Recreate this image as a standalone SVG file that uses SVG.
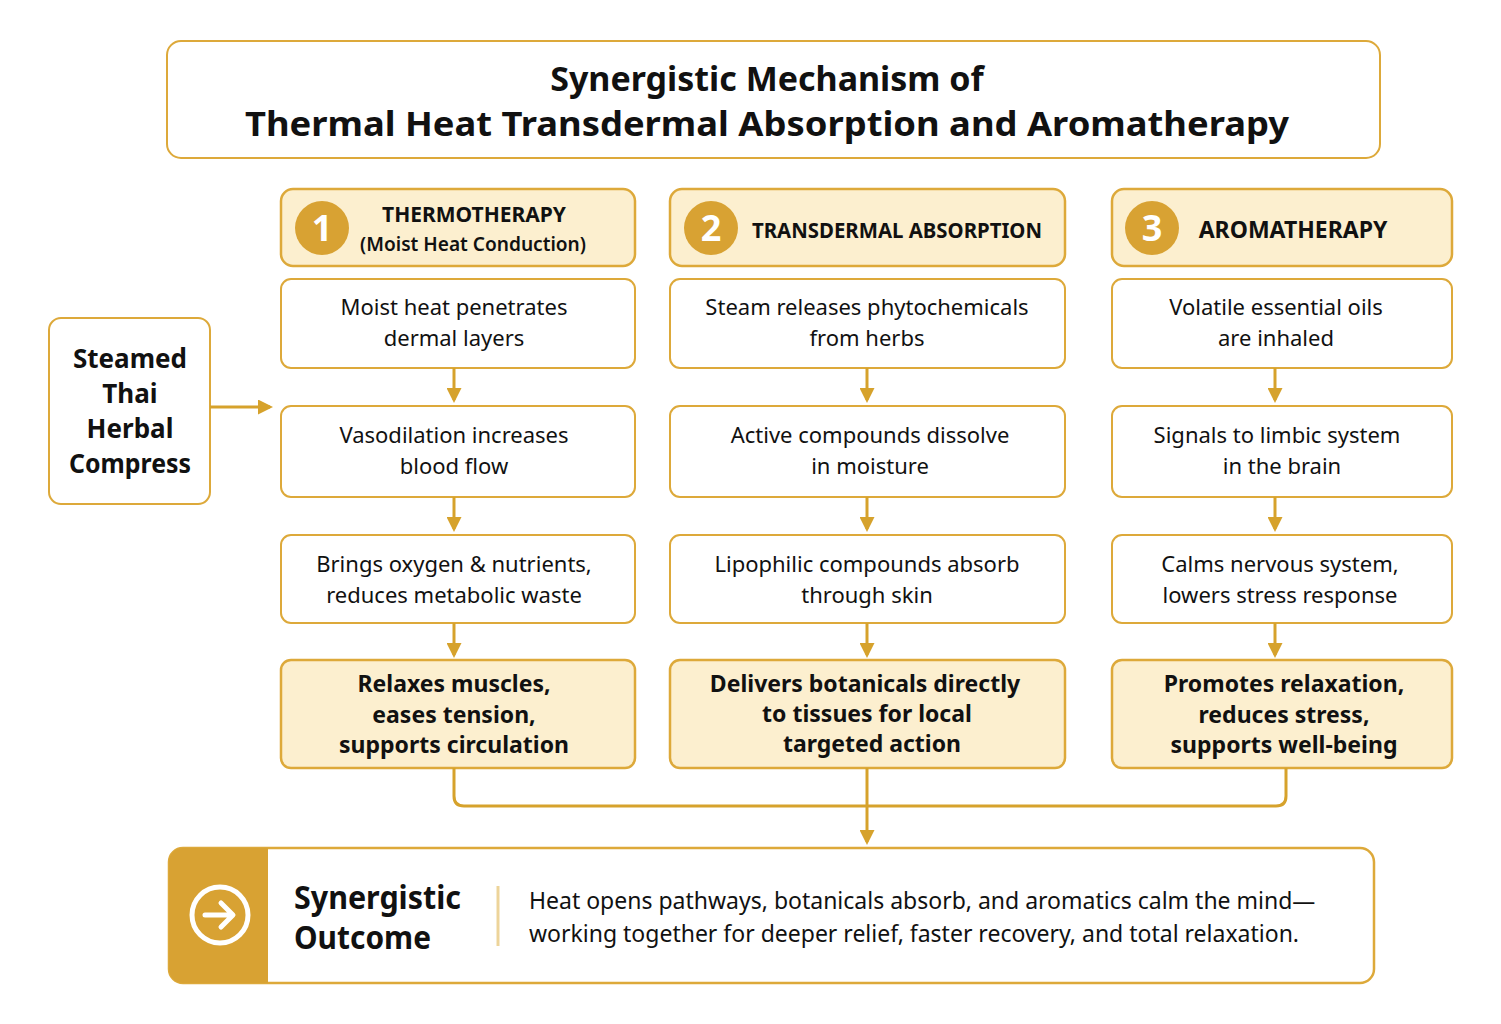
<svg xmlns="http://www.w3.org/2000/svg" width="1501" height="1024" viewBox="0 0 1501 1024">
<style>
text{font-family:"Noto Sans","Open Sans",sans-serif;fill:#111;text-anchor:middle}
.b{fill:#fff;stroke:#DDA93A;stroke-width:2}
.h{fill:#FCEFCF;stroke:#DDA93A;stroke-width:2.5}
.t{font-size:22px}
.hb{font-size:23px;font-weight:bold}
.c{stroke:#D6A22C;stroke-width:3;fill:none}
.n{fill:#D8A233}
.nt{fill:#fff;font-size:36px;font-weight:bold}
</style>
<defs><marker id="a" viewBox="0 0 10 10" refX="8" refY="5" markerWidth="5" markerHeight="5" orient="auto"><path d="M0,0L10,5L0,10z" fill="#D6A22C"/></marker></defs>
<rect width="1501" height="1024" fill="#fff"/>
<g id="title"><rect x="167" y="41" width="1213" height="117" rx="14" class="b"/>
<text x="767" y="91" style="font-size:34px;font-weight:bold">Synergistic Mechanism of</text>
<text x="767" y="136" style="font-size:34px;font-weight:bold" textLength="1044" lengthAdjust="spacingAndGlyphs">Thermal Heat Transdermal Absorption and Aromatherapy</text></g>
<g id="source"><rect x="49" y="318" width="161" height="186" rx="12" class="b"/>
<text x="130" y="368" class="hb" style="font-size:26px">Steamed</text><text x="130" y="403" class="hb" style="font-size:26px">Thai</text><text x="130" y="438" class="hb" style="font-size:26px">Herbal</text><text x="130" y="473" class="hb" style="font-size:26px" textLength="122" lengthAdjust="spacingAndGlyphs">Compress</text></g>
<g id="h1"><rect x="281" y="189" width="354" height="77" rx="12" class="h"/><circle cx="322" cy="228" r="27" class="n"/><text x="322" y="241" class="nt">1</text>
<text x="474" y="222" class="hb" style="font-size:21px">THERMOTHERAPY</text><text x="473" y="251" style="font-size:20px;font-weight:600" textLength="226" lengthAdjust="spacingAndGlyphs">(Moist Heat Conduction)</text></g>
<g id="h2"><rect x="670" y="189" width="395" height="77" rx="12" class="h"/><circle cx="711" cy="228" r="27" class="n"/><text x="711" y="241" class="nt">2</text>
<text x="897" y="238" class="hb" style="font-size:22px" textLength="290" lengthAdjust="spacingAndGlyphs">TRANSDERMAL ABSORPTION</text></g>
<g id="h3"><rect x="1112" y="189" width="340" height="77" rx="12" class="h"/><circle cx="1152" cy="228" r="27" class="n"/><text x="1152" y="241" class="nt">3</text>
<text x="1293" y="238" class="hb">AROMATHERAPY</text></g>
<g id="c1a"><rect x="281" y="279" width="354" height="89" rx="10" class="b"/><text x="454" y="315" class="t">Moist heat penetrates</text><text x="454" y="346" class="t">dermal layers</text></g>
<g id="c1b"><rect x="281" y="406" width="354" height="91" rx="10" class="b"/><text x="454" y="443" class="t">Vasodilation increases</text><text x="454" y="474" class="t">blood flow</text></g>
<g id="c1c"><rect x="281" y="535" width="354" height="88" rx="10" class="b"/><text x="454" y="572" class="t">Brings oxygen &amp; nutrients,</text><text x="454" y="603" class="t">reduces metabolic waste</text></g>
<g id="c1d"><rect x="281" y="660" width="354" height="108" rx="10" class="h" stroke-width="2"/><text x="454" y="692" class="hb">Relaxes muscles,</text><text x="454" y="723" class="hb">eases tension,</text><text x="454" y="753" class="hb">supports circulation</text></g>
<g id="c2a"><rect x="670" y="279" width="395" height="89" rx="10" class="b"/><text x="867" y="315" class="t">Steam releases phytochemicals</text><text x="867" y="346" class="t">from herbs</text></g>
<g id="c2b"><rect x="670" y="406" width="395" height="91" rx="10" class="b"/><text x="870" y="443" class="t">Active compounds dissolve</text><text x="870" y="474" class="t">in moisture</text></g>
<g id="c2c"><rect x="670" y="535" width="395" height="88" rx="10" class="b"/><text x="867" y="572" class="t">Lipophilic compounds absorb</text><text x="867" y="603" class="t">through skin</text></g>
<g id="c2d"><rect x="670" y="660" width="395" height="108" rx="10" class="h" stroke-width="2"/><text x="865" y="692" class="hb">Delivers botanicals directly</text><text x="867" y="722" class="hb">to tissues for local</text><text x="872" y="752" class="hb">targeted action</text></g>
<g id="c3a"><rect x="1112" y="279" width="340" height="89" rx="10" class="b"/><text x="1276" y="315" class="t">Volatile essential oils</text><text x="1276" y="346" class="t">are inhaled</text></g>
<g id="c3b"><rect x="1112" y="406" width="340" height="91" rx="10" class="b"/><text x="1277" y="443" class="t">Signals to limbic system</text><text x="1282" y="474" class="t">in the brain</text></g>
<g id="c3c"><rect x="1112" y="535" width="340" height="88" rx="10" class="b"/><text x="1280" y="572" class="t">Calms nervous system,</text><text x="1280" y="603" class="t">lowers stress response</text></g>
<g id="c3d"><rect x="1112" y="660" width="340" height="108" rx="10" class="h" stroke-width="2"/><text x="1284" y="692" class="hb">Promotes relaxation,</text><text x="1284" y="723" class="hb">reduces stress,</text><text x="1284" y="753" class="hb">supports well-being</text></g>
<g id="outcome"><rect x="169" y="848" width="1205" height="135" rx="14" fill="#fff" stroke="#DDA93A" stroke-width="2.5"/>
<path d="M183,848H268V983H183A14,14 0 0 1 169,969V862A14,14 0 0 1 183,848z" fill="#D8A233"/>
<circle cx="220" cy="915" r="28" fill="none" stroke="#fff" stroke-width="5"/><path d="M205,915H232M221,903L233,915L221,927" fill="none" stroke="#fff" stroke-width="5" stroke-linecap="round" stroke-linejoin="round"/>
<text x="294" y="909" style="font-size:32px;font-weight:bold;text-anchor:start" textLength="167" lengthAdjust="spacingAndGlyphs">Synergistic</text><text x="294" y="949" style="font-size:32px;font-weight:bold;text-anchor:start" textLength="137" lengthAdjust="spacingAndGlyphs">Outcome</text>
<line x1="498" y1="886" x2="498" y2="946" stroke="#EDD49A" stroke-width="3"/>
<text x="529" y="909" style="font-size:23px;text-anchor:start">Heat opens pathways, botanicals absorb, and aromatics calm the mind—</text>
<text x="529" y="942" style="font-size:23px;text-anchor:start">working together for deeper relief, faster recovery, and total relaxation.</text></g>
<g id="connectors">
<line x1="210" y1="407" x2="270" y2="407" class="c" marker-end="url(#a)"/>
<line x1="454" y1="368" x2="454" y2="400" class="c" marker-end="url(#a)"/>
<line x1="454" y1="497" x2="454" y2="529" class="c" marker-end="url(#a)"/>
<line x1="454" y1="623" x2="454" y2="655" class="c" marker-end="url(#a)"/>
<line x1="867" y1="368" x2="867" y2="400" class="c" marker-end="url(#a)"/>
<line x1="867" y1="497" x2="867" y2="529" class="c" marker-end="url(#a)"/>
<line x1="867" y1="623" x2="867" y2="655" class="c" marker-end="url(#a)"/>
<line x1="1275" y1="368" x2="1275" y2="400" class="c" marker-end="url(#a)"/>
<line x1="1275" y1="497" x2="1275" y2="529" class="c" marker-end="url(#a)"/>
<line x1="1275" y1="623" x2="1275" y2="655" class="c" marker-end="url(#a)"/>
<path d="M454,768V796Q454,806 464,806H1276Q1286,806 1286,796V768" class="c"/>
<line x1="867" y1="768" x2="867" y2="842" class="c" marker-end="url(#a)"/>
</g>
</svg>
